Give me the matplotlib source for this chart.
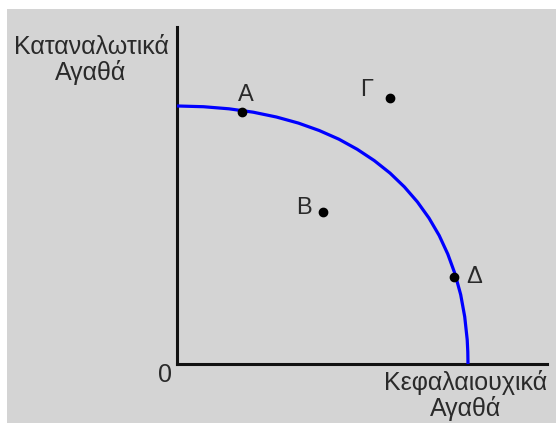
import matplotlib
matplotlib.use("Agg")
import matplotlib.pyplot as plt
from matplotlib.patches import Rectangle

# ---- data ----
curve_x = [0.0, 0.911, 1.784, 2.619, 3.416, 4.172, 4.887, 5.564, 6.192, 6.780, 7.320,
           7.814, 8.261, 8.660, 9.010, 9.306, 9.553, 9.749, 9.887, 9.973, 9.993, 10.0]
curve_y = [9.00, 8.974, 8.901, 8.783, 8.615, 8.403, 8.144, 7.841, 7.489, 7.094, 6.659,
           6.177, 5.654, 5.089, 4.482, 3.833, 3.146, 2.417, 1.650, 0.844, 0.426, 0.0]
point_labels = ["Α", "Γ", "Β", "Δ"]
point_x = [2.22, 7.32, 5.02, 9.53]
point_y = [8.79, 9.28, 5.30, 3.05]
y_label = "Καταναλωτικά\nΑγαθά"
x_label = "Κεφαλαιουχικά\nΑγαθά"
origin_label = "0"

W, H = 558, 423
fig = plt.figure(figsize=(W / 100, H / 100), dpi=100)
fig.patch.set_facecolor("white")
fig.patches.append(Rectangle((7 / W, 0), (556 - 7) / W, (H - 9) / H,
                             transform=fig.transFigure, facecolor="#d4d4d4",
                             edgecolor="none", zorder=-10))

# axes: origin at pixel (177, 364), right end 547, top 27
x0, y0, x1, y1 = 177, 364, 547, 27
ax = fig.add_axes([x0 / W, 1 - y0 / H, (x1 - x0) / W, (y0 - y1) / H])
ax.set_zorder(5)
ax.set_facecolor("none")
ax.set_xlim(0, (x1 - x0) / 29.1)
ax.set_ylim(0, (y0 - y1) / 28.67)
for s in ["top", "right"]:
    ax.spines[s].set_visible(False)
for s in ["left", "bottom"]:
    ax.spines[s].set_linewidth(2.2)
    ax.spines[s].set_color("#111111")
ax.set_xticks([])
ax.set_yticks([])

font = "Liberation Sans"
tc = "#2a2a2a"
fs = 18

ax.plot(curve_x, curve_y, color="#0000ff", lw=2.3, solid_capstyle="butt",
        solid_joinstyle="round", zorder=3, clip_on=False)
ax.plot(point_x, point_y, "o", color="black", ms=6, zorder=4, clip_on=False)

offsets = [(4, 17), (-23, 8), (-19, 4), (20, 0)]
for lab, px, py, off in zip(point_labels, point_x, point_y, offsets):
    ax.annotate(lab, (px, py), xytext=off, textcoords="offset pixels",
                ha="center", va="center", fontsize=fs - 1, family=font, color=tc)

fig.text(91 / W, 1 - 60 / H, y_label, ha="center", va="center", fontsize=fs,
         family=font, color=tc, linespacing=1.05, zorder=10)
fig.text(466 / W, 1 - 395 / H, x_label, ha="center", va="center", fontsize=fs,
         family=font, color=tc, linespacing=1.05, zorder=10)
fig.text(165 / W, 1 - 375 / H, origin_label, ha="center", va="center", fontsize=fs,
         family=font, color=tc, zorder=10)

fig.savefig("out.png", dpi=100, facecolor="white")
